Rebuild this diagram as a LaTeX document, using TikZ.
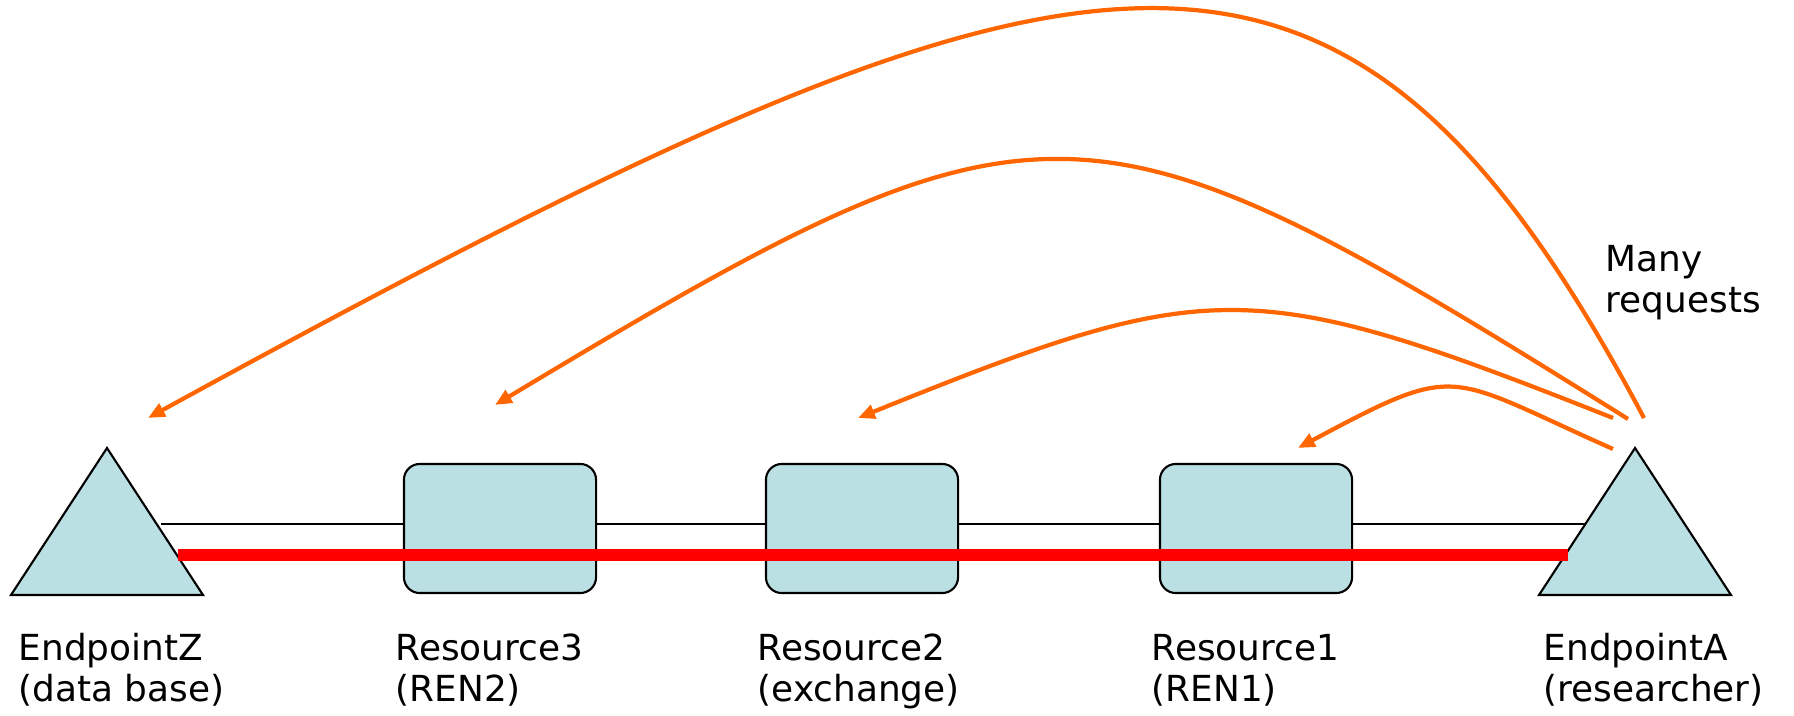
\documentclass[tikz,border=0pt]{standalone}
\usepackage{fontspec}
\setmainfont{DejaVu Sans}
\usetikzlibrary{arrows.meta}
\definecolor{nodefill}{RGB}{187,224,227}
\definecolor{reqorange}{RGB}{255,102,0}

\begin{document}
\begin{tikzpicture}[x=0.01cm, y=-0.01cm,
    resbox/.style={draw, line width=0.6pt, fill=nodefill, rounded corners=4.5pt,
        minimum width=1.92cm, minimum height=1.29cm, inner sep=0pt},
    endtri/.style={draw, line width=0.6pt, fill=nodefill},
    link/.style={line width=0.5pt},
    route/.style={line width=3.2pt, red},
    req/.style={-{Triangle[length=4.8pt, width=4pt]}, line width=1.2pt, reqorange},
    lbl/.style={anchor=base west, align=left, inner sep=0pt,
        font=\fontsize{10.2}{11.6}\selectfont}]
    \useasboundingbox (0,0) rectangle (1794,715);
    % End points
    \draw [endtri] (11,595) -- (107,448) -- (203,595) -- cycle;
    \draw [endtri] (1539,595) -- (1635,448) -- (1731,595) -- cycle;
    \coordinate (zedge) at (161,524);
    \coordinate (aedge) at (1585,524);
    \coordinate (redz) at (178,555);
    \coordinate (reda) at (1568,555);
    % Resources
    \node [resbox] (res3) at (500,528.5) {};
    \node [resbox] (res2) at (862,528.5) {};
    \node [resbox] (res1) at (1256,528.5) {};
    % Links and the route
    \draw [link] (zedge) -- (res3.west |- zedge);
    \draw [link] (res3.east |- zedge) -- (res2.west |- zedge);
    \draw [link] (res2.east |- zedge) -- (res1.west |- zedge);
    \draw [link] (res1.east |- zedge) -- (aedge);
    \draw [route] (redz) -- (reda);
    % Requests
    \coordinate (qz) at (1644,418);
    \coordinate (q3) at (1628,419);
    \coordinate (q2) at (1613,418);
    \coordinate (q1) at (1613,449);
    \coordinate (tz) at (148,418);
    \coordinate (t3) at (495,405);
    \coordinate (t2) at (858,418);
    \coordinate (t1) at (1298,448);
    \draw [req] (qz) .. controls (1339,-156) and (1090,-98) .. (tz);
    \draw [req] (q3) .. controls (1083,78) and (1046,74) .. (t3);
    \draw [req] (q2) .. controls (1250,274) and (1210,276) .. (t2);
    \draw [req] (q1) .. controls (1444,374) and (1461,361) .. (t1);
    % Labels
    \node [lbl] (lblz) at (18,701) {EndpointZ\\(data base)};
    \node [lbl] (lbl3) at (395,701) {Resource3\\(REN2)};
    \node [lbl] (lbl2) at (757,701) {Resource2\\(exchange)};
    \node [lbl] (lbl1) at (1151,701) {Resource1\\(REN1)};
    \node [lbl] (lbla) at (1543,701) {EndpointA\\(researcher)};
    \node [lbl] (many) at (1605,312) {Many\\requests};
\end{tikzpicture}
\end{document}
